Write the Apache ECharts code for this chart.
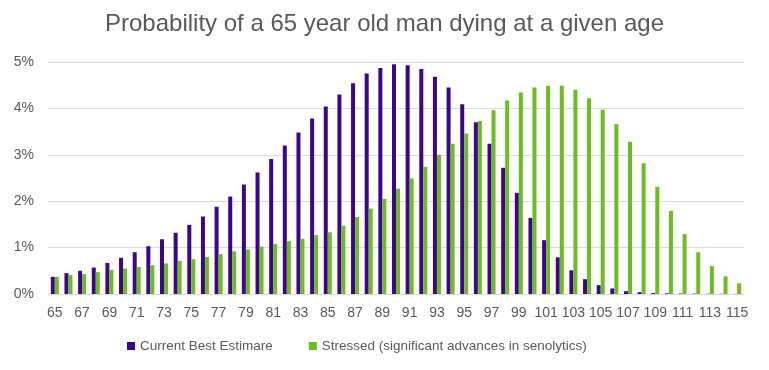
<!DOCTYPE html>
<html><head><meta charset="utf-8">
<script src="https://cdn.jsdelivr.net/npm/echarts@6/dist/echarts.min.js"></script>
<style>html,body{margin:0;padding:0;background:#fff}#c{width:769px;height:370px}</style>
</head><body><div id="c"></div>
<script>
const ages = [];
for (let a = 65; a <= 115; a++) ages.push(String(a));
const currentBest = [0.37,0.45,0.50,0.57,0.67,0.78,0.90,1.03,1.18,1.32,1.49,1.67,1.88,2.10,2.36,2.62,2.91,3.20,3.48,3.78,4.04,4.30,4.54,4.75,4.87,4.95,4.93,4.85,4.68,4.45,4.09,3.70,3.24,2.72,2.18,1.64,1.16,0.79,0.51,0.32,0.19,0.12,0.06,0.04,0.02,0.015,0.01,0.008,0.006,0.005,0.004];
const stressed = [0.37,0.41,0.43,0.47,0.52,0.55,0.58,0.62,0.66,0.71,0.75,0.80,0.86,0.92,0.96,1.02,1.08,1.14,1.19,1.27,1.33,1.47,1.66,1.84,2.05,2.27,2.49,2.74,3.00,3.24,3.46,3.73,3.96,4.17,4.34,4.45,4.49,4.49,4.40,4.22,3.97,3.66,3.28,2.82,2.31,1.79,1.29,0.90,0.60,0.38,0.23];
const yTicks = [0,1,2,3,4,5];
const chart = echarts.init(document.getElementById('c'));
chart.setOption({
  animation:false,
  title:{text:'Probability of a 65 year old man dying at a given age',left:'center',top:7,
    textStyle:{fontFamily:'Liberation Sans',fontSize:24,fontWeight:'normal',color:'#595959'}},
  grid:{left:48,right:25,top:62,bottom:76},
  legend:{bottom:12,left:122,itemWidth:8,itemHeight:8,itemGap:36,icon:'rect',
    textStyle:{fontFamily:'Liberation Sans',fontSize:13.5,color:'#595959'}},
  xAxis:{type:'category',data:ages,
    axisLine:{lineStyle:{color:'#d9d9d9'}},axisTick:{show:false},
    axisLabel:{interval:1,hideOverlap:false,fontFamily:'Liberation Sans',fontSize:14,color:'#595959',margin:12}},
  yAxis:{type:'value',min:yTicks[0],max:yTicks[yTicks.length-1],interval:1,
    axisLabel:{formatter:'{value}%',fontFamily:'Liberation Sans',fontSize:14,color:'#595959',margin:14},
    splitLine:{lineStyle:{color:'#d9d9d9'}},axisLine:{show:false},axisTick:{show:false}},
  series:[
    {name:'Current Best Estimare',type:'bar',data:currentBest,barWidth:4,barGap:'0%',
      itemStyle:{color:'#3b068c'}},
    {name:'Stressed (significant advances in senolytics)',type:'bar',data:stressed,barWidth:4,
      itemStyle:{color:'#6cbd1e'}}
  ]
});
</script></body></html>
